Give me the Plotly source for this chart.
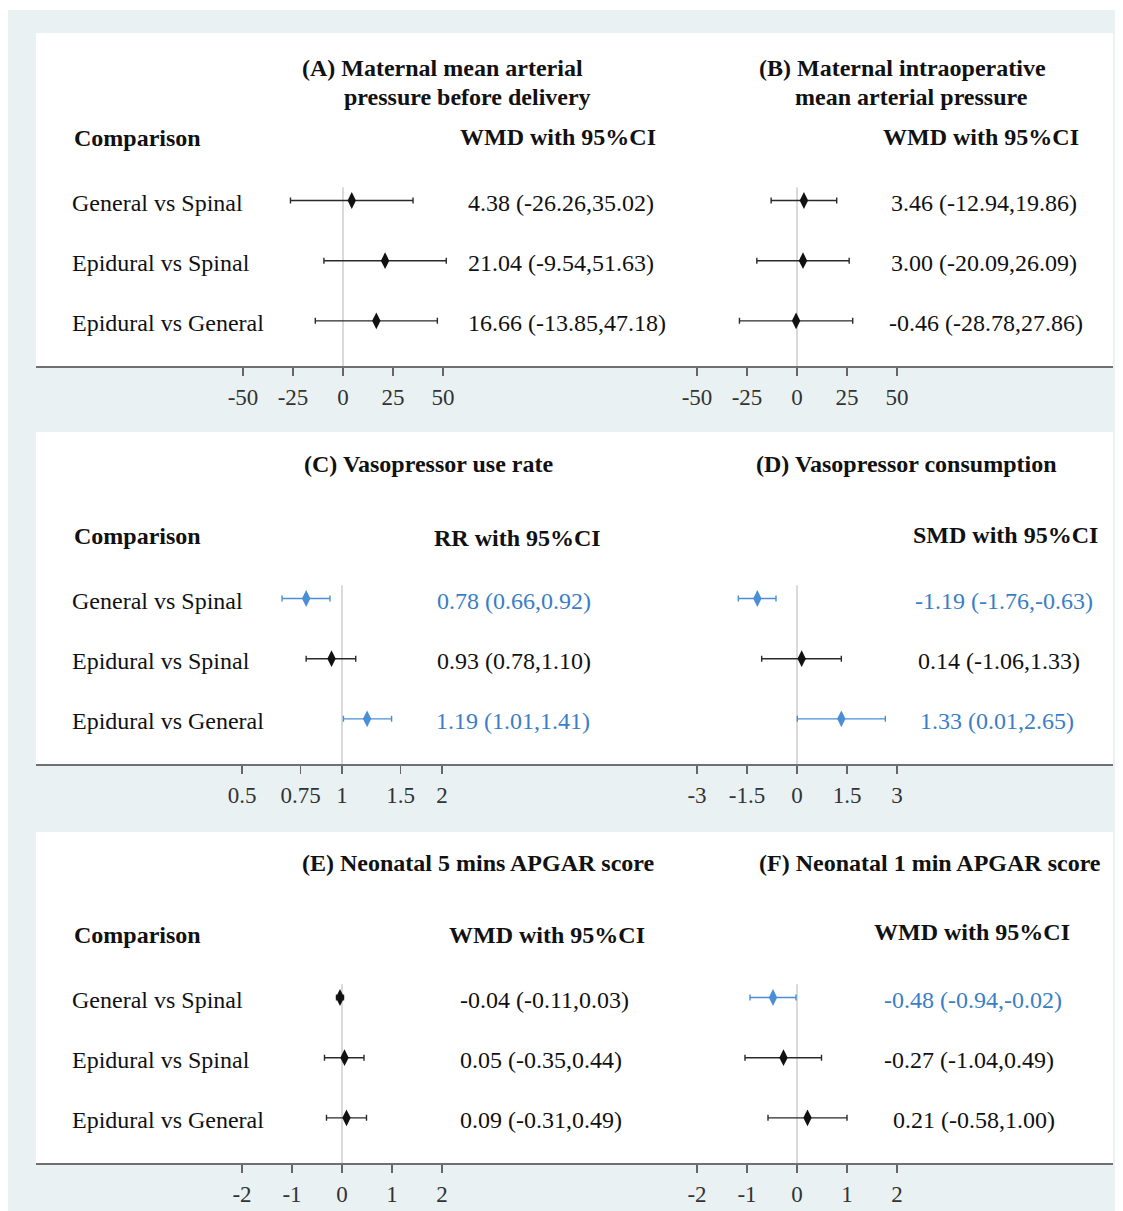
import math
import plotly.graph_objects as go

W, H = 1123, 1211

# ---------------- data ----------------
comparisons = ["General vs Spinal", "Epidural vs Spinal", "Epidural vs General"]

a_est = [4.38, 21.04, 16.66]
a_lo = [-26.26, -9.54, -13.85]
a_hi = [35.02, 51.63, 47.18]

b_est = [3.46, 3.00, -0.46]
b_lo = [-12.94, -20.09, -28.78]
b_hi = [19.86, 26.09, 27.86]

c_est = [0.78, 0.93, 1.19]
c_lo = [0.66, 0.78, 1.01]
c_hi = [0.92, 1.10, 1.41]

d_est = [-1.19, 0.14, 1.33]
d_lo = [-1.76, -1.06, 0.01]
d_hi = [-0.63, 1.33, 2.65]

e_est = [-0.04, 0.05, 0.09]
e_lo = [-0.11, -0.35, -0.31]
e_hi = [0.03, 0.44, 0.49]

f_est = [-0.48, -0.27, 0.21]
f_lo = [-0.94, -1.04, -0.58]
f_hi = [-0.02, 0.49, 1.00]

ab_ticks = [-50, -25, 0, 25, 50]
c_ticks = [0.5, 0.75, 1, 1.5, 2]
d_ticks = [-3, -1.5, 0, 1.5, 3]
ef_ticks = [-2, -1, 0, 1, 2]

titles = {
    "A": ["(A) Maternal mean arterial", "pressure before delivery"],
    "B": ["(B) Maternal intraoperative", "mean arterial pressure"],
    "C": ["(C) Vasopressor use rate"],
    "D": ["(D) Vasopressor consumption"],
    "E": ["(E) Neonatal 5 mins APGAR score"],
    "F": ["(F) Neonatal 1 min APGAR score"],
}
headers = {"A": "WMD with 95%CI", "B": "WMD with 95%CI", "C": "RR with 95%CI",
           "D": "SMD with 95%CI", "E": "WMD with 95%CI", "F": "WMD with 95%CI"}

# ---------------- layout geometry (pixels) ----------------
FONT = "Liberation Serif"
BLUE_TXT = "#3a7ec6"
BLUE_MK = "#4a8fd6"
BLACK = "#111111"
BG = "#e9f1f3"

row_box = [(33, 367), (432, 765), (832, 1164)]  # top, bottom (axis line)
row_vals = [3, 2, 1]
PX_PER_ROW = 60.0
FIRST_ROW_OFF = 167  # first row centre above axis line
LAST_ROW_OFF = 46

panels = [
    dict(key="A", row=0, est=a_est, lo=a_lo, hi=a_hi, ticks=ab_ticks, null=0, null_px=343, scale=2.0, log=False,
         text_x=[466, 466, 466], title_pos=[(442, 68), (467, 97)], header_pos=(558, 137)),
    dict(key="B", row=0, est=b_est, lo=b_lo, hi=b_hi, ticks=ab_ticks, null=0, null_px=797, scale=2.0, log=False,
         text_x=[889, 889, 887], title_pos=[(902, 68), (911, 97)], header_pos=(981, 137)),
    dict(key="C", row=1, est=c_est, lo=c_lo, hi=c_hi, ticks=c_ticks, null=1, null_px=342, scale=100 / math.log10(2), log=True,
         text_x=[435, 435, 434], title_pos=[(428, 464)], header_pos=(517, 538)),
    dict(key="D", row=1, est=d_est, lo=d_lo, hi=d_hi, ticks=d_ticks, null=0, null_px=797, scale=100 / 3.0, log=False,
         text_x=[913, 916, 918], title_pos=[(906, 464)], header_pos=(1005, 535)),
    dict(key="E", row=2, est=e_est, lo=e_lo, hi=e_hi, ticks=ef_ticks, null=0, null_px=342, scale=50.0, log=False,
         text_x=[458, 458, 458], title_pos=[(478, 863)], header_pos=(547, 935)),
    dict(key="F", row=2, est=f_est, lo=f_lo, hi=f_hi, ticks=ef_ticks, null=0, null_px=797, scale=50.0, log=False,
         text_x=[882, 882, 891], title_pos=[(930, 863)], header_pos=(972, 932)),
]

LEFT_DOM = (215, 470)
RIGHT_DOM = (672, 925)


def px_x(px):
    return px / W


def px_y(py):
    return 1 - py / H


def fmt(v):
    return f"{v:.2f}"


def tick_text(v):
    return f"{v:g}"


fig = go.Figure()
shapes = []
annotations = []

# outer background and white panels
shapes.append(dict(type="rect", xref="paper", yref="paper", x0=px_x(8), x1=px_x(1115), y0=0, y1=px_y(10),
                   fillcolor=BG, line=dict(width=0), layer="below"))
for top, bot in row_box:
    shapes.append(dict(type="rect", xref="paper", yref="paper", x0=px_x(36), x1=px_x(1113),
                       y0=px_y(bot), y1=px_y(top), fillcolor="white", line=dict(width=0), layer="below"))
    shapes.append(dict(type="line", xref="paper", yref="paper", x0=px_x(36), x1=px_x(1113),
                       y0=px_y(bot), y1=px_y(bot), line=dict(color="#707070", width=2)))

for r, (top, bot) in enumerate(row_box):
    annotations.append(dict(xref="paper", yref="paper", x=px_x(72), y=px_y(bot - 229),
                            text="<b>Comparison</b>", showarrow=False, xanchor="left", yanchor="middle",
                            font=dict(family=FONT, size=24, color=BLACK)))

layout_axes = {}
for i, p in enumerate(panels):
    n = i + 1
    xa = "xaxis" if n == 1 else f"xaxis{n}"
    ya = "yaxis" if n == 1 else f"yaxis{n}"
    xr = "x" if n == 1 else f"x{n}"
    yr = "y" if n == 1 else f"y{n}"
    top, bot = row_box[p["row"]]
    dom = LEFT_DOM if p["key"] in ("A", "C", "E") else RIGHT_DOM

    if p["log"]:
        x_range = [(dom[0] - p["null_px"]) / p["scale"], (dom[1] - p["null_px"]) / p["scale"]]
    else:
        x_range = [p["null"] + (dom[0] - p["null_px"]) / p["scale"], p["null"] + (dom[1] - p["null_px"]) / p["scale"]]

    y_lo = 1 - LAST_ROW_OFF / PX_PER_ROW
    y_hi = 3 + (bot - FIRST_ROW_OFF - top) / PX_PER_ROW

    layout_axes[xa] = dict(domain=[px_x(dom[0]), px_x(dom[1])], range=x_range, type="log" if p["log"] else "linear",
                           anchor=yr, showgrid=False, zeroline=False, showline=False,
                           ticks="outside", ticklen=8, tickwidth=1.5, tickcolor="#666666",
                           tickvals=p["ticks"], ticktext=[tick_text(t) for t in p["ticks"]],
                           tickfont=dict(family=FONT, size=23, color="#333333"), ticklabelstandoff=1,
                           fixedrange=True)
    layout_axes[ya] = dict(domain=[px_y(bot), px_y(top)], range=[y_lo, y_hi], anchor=xr, visible=False,
                           fixedrange=True)

    fig.add_trace(go.Scatter(x=[p["null"], p["null"]], y=[y_lo, 3.22], mode="lines", xaxis=xr, yaxis=yr,
                             line=dict(color="#b5b5b5", width=1), hoverinfo="skip", showlegend=False))

    for j in range(3):
        est, lo, hi = p["est"][j], p["lo"][j], p["hi"][j]
        sig = lo > p["null"] or hi < p["null"]
        mk_col = BLUE_MK if sig else BLACK
        line_col = BLUE_MK if sig else "#2a2a2a"
        fig.add_trace(go.Scatter(
            x=[est], y=[row_vals[j]], mode="markers", xaxis=xr, yaxis=yr, showlegend=False,
            marker=dict(symbol="diamond-tall", size=12, color=mk_col, line=dict(width=0)),
            error_x=dict(type="data", symmetric=False, array=[hi - est], arrayminus=[est - lo],
                         color=line_col, thickness=1.4, width=3),
            cliponaxis=False))
        annotations.append(dict(xref="paper", yref=yr, x=px_x(p["text_x"][j]), y=row_vals[j],
                                text=f"{fmt(est)} ({fmt(lo)},{fmt(hi)})", showarrow=False,
                                xanchor="left", yanchor="middle", yshift=-2,
                                font=dict(family=FONT, size=24, color=BLUE_TXT if sig else BLACK)))
        if p["key"] in ("A", "C", "E"):
            annotations.append(dict(xref="paper", yref=yr, x=px_x(70), y=row_vals[j],
                                    text=comparisons[j], showarrow=False, xanchor="left", yanchor="middle",
                                    yshift=-2, font=dict(family=FONT, size=24, color=BLACK)))

    for (tx, ty), line in zip(p["title_pos"], titles[p["key"]]):
        annotations.append(dict(xref="paper", yref="paper", x=px_x(tx), y=px_y(ty), text=f"<b>{line}</b>",
                                showarrow=False, xanchor="center", yanchor="middle",
                                font=dict(family=FONT, size=24, color=BLACK)))
    hx, hy = p["header_pos"]
    annotations.append(dict(xref="paper", yref="paper", x=px_x(hx), y=px_y(hy), text=f"<b>{headers[p['key']]}</b>",
                            showarrow=False, xanchor="center", yanchor="middle",
                            font=dict(family=FONT, size=24, color=BLACK)))

fig.update_layout(
    width=W, height=H, margin=dict(l=0, r=0, t=0, b=0),
    paper_bgcolor="white", plot_bgcolor="rgba(0,0,0,0)",
    shapes=shapes, annotations=annotations, showlegend=False,
    **layout_axes,
)

fig.write_html("out.html", config={"displayModeBar": False, "staticPlot": True},
               post_script="document.body.style.margin='0';document.body.style.overflow='hidden';")
